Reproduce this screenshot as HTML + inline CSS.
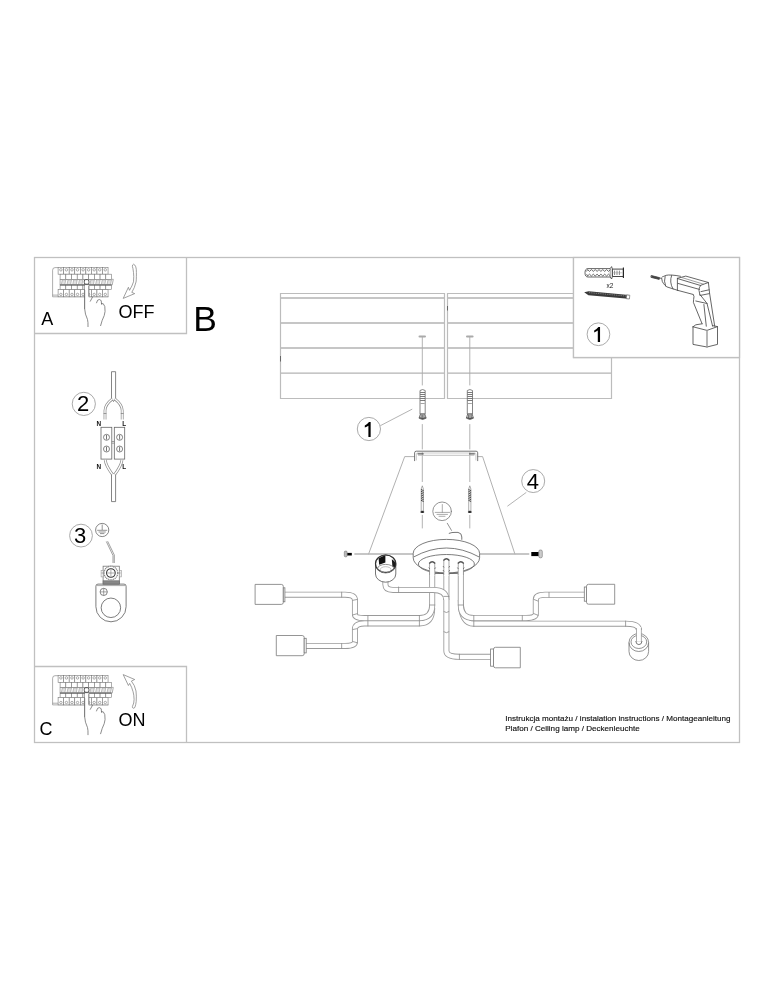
<!DOCTYPE html>
<html><head><meta charset="utf-8">
<style>
html,body{margin:0;padding:0;background:#fff;width:774px;height:1000px;overflow:hidden}
svg{position:absolute;left:0;top:0;display:block;will-change:transform}
text{font-family:"Liberation Sans",sans-serif}
</style></head><body>
<svg width="774" height="1000" viewBox="0 0 774 1000">
<rect x="0" y="0" width="774" height="1000" fill="#fff"/>
<!-- frame -->
<g fill="none" stroke="#c0c0c0" stroke-width="1.3">
<rect x="34.5" y="257.5" width="705" height="485"/>
<path d="M186.5 257.5V333.5H34.5"/>
<path d="M34.5 666.5H186.5V742.5"/>
<path d="M573.5 257.5V357.5H739.5"/>
</g>
<!-- letters -->
<g fill="#000">
<text x="41.3" y="325" font-size="18">A</text>
<text x="118.5" y="318" font-size="18">OFF</text>
<text x="39.5" y="735" font-size="18">C</text>
<text x="118.5" y="726" font-size="18">ON</text>
<text x="193.2" y="331" font-size="35.4">B</text>
</g>
<!-- numbered circles -->
<g fill="none" stroke="#a0a0a0" stroke-width="0.9">
<circle cx="598.6" cy="334.4" r="11.4"/>
<circle cx="368.9" cy="429" r="11.6"/>
<circle cx="533.2" cy="481.05" r="11.5"/>
<circle cx="83.8" cy="403.9" r="11.6"/>
<circle cx="81" cy="535.6" r="11.4"/>
</g>
<g fill="#000" font-size="22" text-anchor="middle">
<path d="M370.65 422.10V436.90H368.40V425.70Q366.80 426.90 364.80 427.50V425.50Q367.30 424.20 369.00 422.10Z" fill="#000"/>
<text x="532.9" y="488.9">4</text>
<text x="83.1" y="411.3">2</text>
<text x="80.2" y="543.4">3</text>
</g>
<!-- bottom text -->
<g fill="#111" stroke="#111" stroke-width="0.15" font-size="8.1">
<text x="505.2" y="720.6">Instrukcja montażu / instalation instructions / Montageanleitung</text>
<text x="505.2" y="731.4">Plafon / Ceiling lamp / Deckenleuchte</text>
</g>
<!-- ceiling panels -->
<g fill="none" stroke="#bcbcbc" stroke-width="1.2">
<path d="M280.5 293.5H444.5V398.5H280.5Z"/>
<path d="M447.5 293.5H611.5V398.5H447.5Z"/>
</g>
<g fill="none" stroke="#b4b4b4" stroke-width="1.45">
<path d="M281 297.9H444M281 323H444M281 348H444M281 373.1H444"/>
<path d="M448 297.9H611M448 323H611M448 348H611M448 373.1H611"/>
<path d="M280.5 356V361.5M447.5 306V310.5" stroke="#666" stroke-width="1"/>
</g>



<g id="brk">
<g fill="#fff" stroke="#777" stroke-width="0.6">
<path d="M58.1 267.6H55Q52.6 267.6 52.6 270.2V296.8H108.4"/>
<path d="M52.6 295.1H58.1"/>
<rect x="58.10" y="267.4" width="5.55" height="6.8"/><circle cx="60.88" cy="269.8" r="1.25"/><rect x="63.65" y="267.4" width="5.55" height="6.8"/><circle cx="66.42" cy="269.8" r="1.25"/><rect x="69.20" y="267.4" width="5.55" height="6.8"/><circle cx="71.98" cy="269.8" r="1.25"/><rect x="74.75" y="267.4" width="5.55" height="6.8"/><circle cx="77.53" cy="269.8" r="1.25"/><rect x="80.30" y="267.4" width="5.55" height="6.8"/><circle cx="83.08" cy="269.8" r="1.25"/><rect x="85.85" y="267.4" width="5.55" height="6.8"/><circle cx="88.62" cy="269.8" r="1.25"/><rect x="91.40" y="267.4" width="5.55" height="6.8"/><circle cx="94.18" cy="269.8" r="1.25"/><rect x="96.95" y="267.4" width="5.55" height="6.8"/><circle cx="99.73" cy="269.8" r="1.25"/><rect x="102.50" y="267.4" width="5.55" height="6.8"/><circle cx="105.28" cy="269.8" r="1.25"/>
<rect x="58.10" y="289.4" width="5.55" height="7.4"/><circle cx="60.88" cy="294.4" r="1.2"/><rect x="63.65" y="289.4" width="5.55" height="7.4"/><circle cx="66.42" cy="294.4" r="1.2"/><rect x="69.20" y="289.4" width="5.55" height="7.4"/><circle cx="71.98" cy="294.4" r="1.2"/><rect x="74.75" y="289.4" width="5.55" height="7.4"/><circle cx="77.53" cy="294.4" r="1.2"/><rect x="80.30" y="289.4" width="5.55" height="7.4"/><circle cx="83.08" cy="294.4" r="1.2"/><rect x="85.85" y="289.4" width="5.55" height="7.4"/><circle cx="88.62" cy="294.4" r="1.2"/><rect x="91.40" y="289.4" width="5.55" height="7.4"/><circle cx="94.18" cy="294.4" r="1.2"/><rect x="96.95" y="289.4" width="5.55" height="7.4"/><circle cx="99.73" cy="294.4" r="1.2"/><rect x="102.50" y="289.4" width="5.55" height="7.4"/><circle cx="105.28" cy="294.4" r="1.2"/>
<path d="M60.1 279.3H113.3L112.2 285H60.1Z"/>
<rect x="60.10" y="274.2" width="5.71" height="5.1"/><rect x="60.10" y="285" width="5.71" height="4.4"/><rect x="65.81" y="274.2" width="5.71" height="5.1"/><rect x="65.81" y="285" width="5.71" height="4.4"/><rect x="71.52" y="274.2" width="5.71" height="5.1"/><rect x="71.52" y="285" width="5.71" height="4.4"/><rect x="77.23" y="274.2" width="5.71" height="5.1"/><rect x="77.23" y="285" width="5.71" height="4.4"/><rect x="82.94" y="274.2" width="5.71" height="5.1"/><rect x="82.94" y="285" width="5.71" height="4.4"/><rect x="88.66" y="274.2" width="5.71" height="5.1"/><rect x="88.66" y="285" width="5.71" height="4.4"/><rect x="94.37" y="274.2" width="5.71" height="5.1"/><rect x="94.37" y="285" width="5.71" height="4.4"/><rect x="100.08" y="274.2" width="5.71" height="5.1"/><rect x="100.08" y="285" width="5.71" height="4.4"/><rect x="105.79" y="274.2" width="5.71" height="5.1"/><rect x="105.79" y="285" width="5.71" height="4.4"/>
</g>
<g fill="#e2e2e2" stroke="#888" stroke-width="0.5">
<path d="M61.30 284.6L62.30 279.8H65.81L64.81 284.6Z"/><path d="M67.01 284.6L68.01 279.8H71.52L70.52 284.6Z"/><path d="M72.72 284.6L73.72 279.8H77.23L76.23 284.6Z"/><path d="M78.43 284.6L79.43 279.8H82.94L81.94 284.6Z"/><path d="M84.14 284.6L85.14 279.8H88.66L87.66 284.6Z"/><path d="M89.86 284.6L90.86 279.8H94.37L93.37 284.6Z"/><path d="M95.57 284.6L96.57 279.8H100.08L99.08 284.6Z"/><path d="M101.28 284.6L102.28 279.8H105.79L104.79 284.6Z"/><path d="M106.99 284.6L107.99 279.8H111.50L110.50 284.6Z"/>
</g>
<path d="M60.1 285H111.5" stroke="#555" stroke-width="0.9"/>
<rect x="84.3" y="279.6" width="4.6" height="4.6" rx="1.5" fill="#fff" stroke="#333" stroke-width="0.8"/>
<!-- hand -->
<path d="M84.7 283.5V309Q84.9 314 87.5 319.5Q88.2 322 88 327" fill="none" stroke="#666" stroke-width="0.75"/>
<path d="M84.9 285H88.7V297" fill="#fff" stroke="#666" stroke-width="0.6"/>
<path d="M84.9 285.2H88.7V309H84.9Z" fill="#fff" stroke="none"/>
<path d="M84.7 290V309M88.8 286V296.5" fill="none" stroke="#666" stroke-width="0.75"/>
<path d="M90.1 301.6L92.8 296.6" fill="none" stroke="#666" stroke-width="0.75"/>
<path d="M96.4 303.2L97.6 300.2Q99.4 298.6 101.2 300.6L101.6 304.6" fill="none" stroke="#666" stroke-width="0.75"/>
<path d="M101 303.6Q103.6 302.4 104.8 306.5Q105.6 312 104.2 315.6Q102 320 100.5 326" fill="none" stroke="#666" stroke-width="0.75"/>
</g>
<use href="#brk" y="408.1"/>

<g fill="#fff" stroke="#777" stroke-width="0.7" stroke-linejoin="round">
<path d="M133.5 264.2Q136.6 265.2 136.4 272.6Q136.4 281 136 282Q134.6 288 131.8 292.4L134.7 293.6L123.2 298.4L128.4 287.3L129.5 290.3Q132.2 286 133.5 281.8Q134 276 133.5 272.6Q133 268 132.4 266.3Q132.4 264.6 133.5 264.2Z"/>
<path d="M123.2 674.6L134.7 679.5L131.4 681.1Q134.8 685 136 691Q136.6 696 136.2 701.5Q135.8 705 135 707Q134.2 708.6 133.5 708.2Q132 707.8 132.4 706.6Q134.2 703 134.1 699.4Q134 695 133.1 691.8Q131.8 687 129.7 683.4L128.4 685.5Z"/>
</g>
<!-- ===== tools box ===== -->
<rect x="573.5" y="257.5" width="166" height="100" fill="#fff" stroke="#c0c0c0" stroke-width="1.3"/>
<circle cx="598.45" cy="334.25" r="11.35" fill="none" stroke="#a0a0a0" stroke-width="0.9"/>
<path d="M600.05 327.00V341.90H597.80V330.60Q596.20 331.80 594.20 332.40V330.40Q596.70 329.10 598.40 327.00Z" fill="#000"/>
<!-- dowel -->
<g stroke="#333" stroke-width="0.75" fill="#fff" stroke-linejoin="round">
<path d="M588 268.6H610.2L611.6 266.6L612.4 269V276.6L611.6 279L610.2 277H588Q585 277 585 272.8Q585 268.6 588 268.6Z"/>
<path d="M612.4 269.1H623.4V276.5H612.4Z" stroke="#333" stroke-width="0.9"/>
<path d="M623.4 267.6V278" stroke="#222" stroke-width="1.1"/>
<path d="M586.6 271.4L587.6 269.6L589.5 271.4L591.4 269.6L593.3 271.4L595.2 269.6L597.1 271.4L599.0 269.6L600.9 271.4L602.8 269.6L604.7 271.4L606.6 269.6L608.5 271.4L610.4 269.6M586.6 274.2L587.6 276L589.5 274.2L591.4 276L593.3 274.2L595.2 276L597.1 274.2L599.0 276L600.9 274.2L602.8 276L604.7 274.2L606.6 276L608.5 274.2L610.4 276" fill="none" stroke="#444" stroke-width="0.8"/>
<path d="M610.2 268.6V277" fill="none" stroke="#555" stroke-width="0.6"/>
<path d="M614.6 270.6V275M617 270.6V275M619.4 270.6V275" fill="none" stroke="#555" stroke-width="0.7"/>
<path d="M612.4 272.8H622.4" fill="none" stroke="#999" stroke-width="0.5"/>
</g>
<text x="606.6" y="288" font-size="6.5" fill="#222">x2</text>
<!-- screw -->
<g>
<path d="M584.2 292.2L588.6 291.2L628.8 295L628.4 298.7L588.4 295.2Z" fill="#3a3a3a"/>
<path d="M589 292.6L627.6 296.2" stroke="#bbb" stroke-width="0.6" stroke-dasharray="0.9 0.9"/>
<path d="M626.6 294.9L629.8 295.2L629.4 299L626.2 298.7Z" fill="#fff" stroke="#555" stroke-width="0.6"/>
</g>
<!-- drill -->
<g fill="none" stroke="#4a4a4a" stroke-width="0.85" stroke-linejoin="round" stroke-linecap="round">
<path d="M651.5 275.6L659.4 277.6L659.2 279.4L651.3 277.4Z" fill="#444" stroke="#444"/>
<path d="M659.4 278L661.8 278.4"/>
<path d="M661.8 277.4Q662.6 276.4 663.8 276.3Q666 275 668.6 275Q672.5 275 676.1 275.5L680.5 276.3"/>
<path d="M661.8 279.2Q662.2 282.2 663.4 283.4Q665 285.6 666.9 286.9L677.9 290.4"/>
<path d="M665.1 276.6Q663.6 281 665.6 286"/>
<path d="M671.7 275.3Q669 282 673 289"/>
<path d="M677.4 278.3V290.4"/>
<path d="M677.4 278.3L685.8 276.1L708.4 282.5L700.7 285.3Z"/>
<path d="M681 277.3L703.6 284.2" stroke="#777" stroke-width="0.7"/>
<path d="M677.9 283.4L699.4 289.4"/>
<path d="M677.9 290.4L693 294.4"/>
<path d="M700.7 285.3Q698.6 288 699 290.4L700 295.4"/>
<path d="M701 291.6L709.1 289.8M700.4 295.4L709.4 293.6"/>
<path d="M708.4 282.5L709.6 293.4L714.7 326.2"/>
<path d="M693.4 294.6Q694.6 296 693.6 299.6L693.4 302.4L702.1 323.8"/>
<path d="M695.8 301L707 303.5M700 294.6L707 303.4L712.6 326.2M703.9 304.5L706.3 326.2"/>
<path d="M693 326.8L695.8 324.8L702.1 323.8M712.6 325.6L717.5 326.6L707 330.4L693 326.8"/>
<path d="M693 326.8V344.4L707 347L717.5 344.4V326.6"/>
<path d="M707 330.4V347" stroke="#999" stroke-width="1.4"/>
</g>
<!-- ===== main lamp ===== -->
<g fill="none" stroke="#5a5a5a" stroke-width="0.9" stroke-linecap="round" stroke-linejoin="round">
<!-- dashed centerlines -->
<path d="M422.3 336.5V385M469.8 336.5V385" stroke="#aaa"/>
<path d="M419.5 336.5H425M467 336.5H472.6" stroke="#aaa" stroke-width="2"/>
<path d="M422.3 424.5V449M469.8 424.5V449M422.3 452.6V481.6M469.8 452.6V481.6M422.3 515.3V528M469.8 515.3V528" stroke="#aaa"/>
<!-- leader 1 -->
<path d="M380.7 425.5L411.9 409.3" stroke="#aaa"/>
<!-- trapezoid (shade outline) -->
<path d="M414.5 456.6H404.7L368.6 554M477.7 456.6H482.6L514.9 554" stroke="#a8a8a8"/>
<path d="M354.9 554H413.2M479.6 554H528.7" stroke="#b4b4b4" stroke-width="1.5"/>
<!-- bracket -->
<path d="M414.6 460.7V452.8Q414.6 451.2 416.2 451.2H476.1Q477.7 451.2 477.7 452.8V460.7" stroke="#666" stroke-width="0.9"/>
<path d="M416.4 460V454.2Q416.4 453 417.6 453H474.7Q475.9 453 475.9 454.2V460" stroke="#aaa" stroke-width="0.6"/>
<path d="M418.4 455.3H474" stroke="#bbb" stroke-width="0.9"/>
<path d="M418 453.9H423.3M469.5 453.9H474.4" stroke="#444" stroke-width="1"/>
<!-- leader 4 -->
<path d="M526 492.6L507.7 506" stroke="#aaa"/>
<!-- ground symbol -->
<circle cx="442.1" cy="511.3" r="9.3" stroke="#777" stroke-width="0.8"/>
<path d="M442.3 504.5V512.4M435.2 512.4H449.6M437 514.4H447.5M439 516.3H445" stroke="#888" stroke-width="0.7"/>
<path d="M447.3 523.3L451.5 530.4" stroke="#777" stroke-width="0.8"/>
<path d="M449.2 533.3Q452 532.2 455 532.4H458Q461.8 533 461.8 537V539.4" stroke="#666" stroke-width="0.9"/>
</g>

<!-- ===== canopy, tubes, sockets ===== -->
<g fill="none" stroke-linecap="butt" stroke-linejoin="round">
<!-- left arms -->
<path id="t2" d="M304 645.95H345Q354.95 645.95 354.95 641.7V629.1Q354.95 623.4 364.5 623.4H419.4Q432.2 623.4 432.2 608" stroke="#9a9a9a" stroke-width="6"/>
<path d="M304 645.95H345Q354.95 645.95 354.95 641.7V629.1Q354.95 623.4 364.5 623.4H419.4Q432.2 623.4 432.2 608" stroke="#fff" stroke-width="4.3"/>
<path d="M283 594.65H345Q354.95 594.65 354.95 600V614.5Q354.95 618.1 364.5 618.1H419.4Q432.2 618.1 432.2 605V563" stroke="#9a9a9a" stroke-width="6"/>
<path d="M283 594.65H345Q354.95 594.65 354.95 600V614.5Q354.95 618.1 364.5 618.1H419.4Q432.2 618.1 432.2 605V563" stroke="#fff" stroke-width="4.3"/>
<!-- middle vertical + lower middle arm -->
<path d="M446.4 560V651Q446.4 656.8 459.4 656.8H492" stroke="#9a9a9a" stroke-width="6"/>
<path d="M446.4 560V651Q446.4 656.8 459.4 656.8H492" stroke="#fff" stroke-width="4.3"/>
<!-- open socket arm -->
<path d="M385.4 581V584.5Q385.4 589.9 393 589.9H433Q446.4 589.9 446.4 600" stroke="#9a9a9a" stroke-width="6"/>
<path d="M385.4 581V584.5Q385.4 589.9 393 589.9H433Q446.4 589.9 446.4 600" stroke="#fff" stroke-width="4.3"/>
<!-- right arms -->
<path d="M460.8 600Q460.8 623.7 473.8 623.7H625.6Q638.9 623.7 638.9 630" stroke="#9a9a9a" stroke-width="6"/>
<path d="M460.8 600Q460.8 623.7 473.8 623.7H625.6Q638.9 623.7 638.9 630" stroke="#fff" stroke-width="4.3"/>
<path d="M460.8 563V605Q460.8 618 473.8 618H526Q535.8 618 535.8 614V599.5Q535.8 594.75 545 594.75H586" stroke="#9a9a9a" stroke-width="6"/>
<path d="M460.8 563V605Q460.8 618 473.8 618H526Q535.8 618 535.8 614V599.5Q535.8 594.75 545 594.75H586" stroke="#fff" stroke-width="4.3"/>
</g>
<g fill="none" stroke="#8a8a8a" stroke-width="0.8">
<!-- tube joint ticks -->
<path d="M443.6 611.4Q446.4 613.6 449.2 611.4M443.6 631.6Q446.4 633.8 449.2 631.6M352.4 600.4L357.5 599.4M352.4 615L357.5 613.6M352.4 629.6L357.5 628.6M352.4 641.4L357.5 642.8M533.3 613.4L538.3 615.4M533.3 599.2L538.3 601.2M341.65 591.8V597.5M367.9 615.5V626.3M419.4 615.2V626.3M341.65 643.2V648.7M429.2 605H435.2M398.6 586.6V592.6M443.4 596.4H449.4M459.4 653.8V659.8M457.8 605H463.8M473.8 615V626.7M522.3 615.2V620.8M549 592V597.5M625.6 620.7V626.7"/>
</g>
<!-- canopy -->
<g fill="#fff" stroke="#666" stroke-width="0.85">
<path d="M413.2 553.4A33.2 14 0 0 1 479.6 553.4V557.8A33.2 15.2 0 0 1 413.2 557.8Z"/>
<path d="M413.6 557Q446.4 539 479.2 557" fill="none"/>
<ellipse cx="446.4" cy="564" rx="28" ry="9.5" fill="none"/>
</g>
<!-- tube nipples into canopy -->
<g fill="none" stroke-linecap="butt">
<path d="M432.2 575V563M446.4 575V560M460.8 575V563" stroke="#9a9a9a" stroke-width="6"/>
<path d="M432.2 576V563M446.4 576V560M460.8 576V563" stroke="#fff" stroke-width="4.3"/>
<path d="M429.2 563.5Q432.2 560 435.2 563.5M443.4 560.5Q446.4 557 449.4 560.5M457.8 563.5Q460.8 560 463.8 563.5" stroke="#555" stroke-width="1.3"/>
<path d="M428.8 567.5l1 1.5M435.6 567.5l-1 1.5M443 566l1 1.5M449.8 566l-1 1.5M443 570l1 1.5M449.8 570l-1 1.5M457.4 567.5l1 1.5M464.2 567.5l-1 1.5" stroke="#666" stroke-width="0.8"/>
<path d="M435 573.3H443.4M449.4 573.3H457.8" stroke="#5a5a5a" stroke-width="0.9"/>
</g>
<!-- sockets -->
<g fill="#fff" stroke="#7a7a7a" stroke-width="0.8">
<path d="M255.1 584.4H281.3Q283.3 584.4 283.3 586.4V602.4Q283.3 604.4 281.3 604.4H255.1Z"/>
<rect x="283.3" y="587.8" width="1.6" height="14"/>
<path d="M276.3 635.5H302.2Q304.2 635.5 304.2 637.5V653.7Q304.2 655.7 302.2 655.7H276.3Z"/>
<rect x="304.2" y="638.3" width="2" height="14.6"/>
<path d="M495.5 647.3H520.3V667.8H495.5Q493.5 667.8 493.5 665.8V649.3Q493.5 647.3 495.5 647.3Z"/>
<rect x="490.6" y="649" width="2.9" height="17.2"/>
<path d="M588.5 584.3H614.7V604.2H588.5Q586.5 604.2 586.5 602.2V586.3Q586.5 584.3 588.5 584.3Z"/>
<rect x="584.3" y="587" width="2.2" height="14.2"/>
</g>
<!-- open socket -->
<g stroke="#555" stroke-width="0.9">
<path d="M375.5 563.8A10.15 8.8 0 0 1 395.8 563.8V574A10.15 8.2 0 0 1 375.5 574Z" fill="#fff" stroke="#666"/>
<ellipse cx="385.65" cy="563.8" rx="10.15" ry="8.8" fill="none" stroke="#333" stroke-width="1.2"/>
<path d="M378.6 558.4Q381.6 556.2 385.4 555.6V562.6L379.2 564.8Z" fill="#111" stroke="none"/>
<path d="M391.8 559.2Q394.8 560.8 395.6 563.4L394.8 567.2L392.4 566.4Z" fill="#1a1a1a" stroke="none"/>
<ellipse cx="385.65" cy="568.5" rx="8.1" ry="4.1" fill="none" stroke="#777" stroke-width="0.8"/>
<ellipse cx="385.65" cy="569.6" rx="5.4" ry="2.9" fill="none" stroke="#999" stroke-width="0.6"/>
<path d="M383.8 572.6Q385.65 570.9 387.5 572.6Z" fill="#222" stroke="none"/>
</g>
<!-- hanging socket -->
<g stroke="#777" stroke-width="0.8" fill="none">
<path d="M629 642.5A9.8 9 0 0 1 648.6 642.5V651.5A9.8 9 0 0 1 629 651.5Z" fill="#fff"/>
<path d="M629 642.5A9.8 9 0 0 0 648.6 642.5"/>
<ellipse cx="638.85" cy="641.9" rx="7.85" ry="6.6"/>
</g>
<g fill="none" stroke-linecap="butt">
<path d="M638.9 628V641.5" stroke="#9a9a9a" stroke-width="5.6"/>
<path d="M638.9 627V641.5" stroke="#fff" stroke-width="4"/>
<path d="M635.8 641Q636 644.6 638.9 644.6Q641.8 644.6 642 641" stroke="#666" stroke-width="0.9"/>
</g>
<!-- side screws -->
<g>
<rect x="347.1" y="552.9" width="4.7" height="2.6" fill="#000"/>
<rect x="344.3" y="551.1" width="2.8" height="5.7" rx="1" fill="#bbb" stroke="#777" stroke-width="0.6"/>
<rect x="531.3" y="552" width="7.5" height="4.1" fill="#000"/>
<rect x="538.8" y="550" width="3.5" height="7.8" rx="1.4" fill="#ccc" stroke="#777" stroke-width="0.6"/>
</g>

<!-- ===== dowels & screws under ceiling ===== -->
<g id="dowel">
<path d="M420 390.5Q422.6 388.6 425.2 390.5V414H420Z" fill="#fff" stroke="#666" stroke-width="0.8"/>
<path d="M420.2 392.5H425M420.2 394.5H425M420.2 396.5H425M420.2 398.5H425M420.2 400.5H425" stroke="#444" stroke-width="0.7"/>
<path d="M420.6 403.5H424.6" stroke="#666" stroke-width="0.6"/>
<path d="M420.4 414L419 418.2Q422.6 420.8 426.2 418.2L424.8 414Z" fill="#ddd" stroke="#444" stroke-width="0.7"/>
<path d="M421.2 414.6V418.6M422.6 414.6V419.2M424 414.6V418.6" stroke="#333" stroke-width="0.6"/>
<path d="M419.4 417.6Q422.6 419.6 425.8 417.6" fill="none" stroke="#333" stroke-width="0.8"/>
</g>
<use href="#dowel" x="47.3"/>
<g id="wscrew">
<path d="M422.3 485.8L421.2 489V511H423.4V489Z" fill="#fff" stroke="#777" stroke-width="0.6"/>
<path d="M421 489.5L423.6 490.7M421 491.3L423.6 492.5M421 493.1L423.6 494.3M421 494.9L423.6 496.1M421 496.7L423.6 497.9M421 498.5L423.6 499.7M421 500.3L423.6 501.5" stroke="#222" stroke-width="0.8"/>
<ellipse cx="422.3" cy="512" rx="2" ry="1.1" fill="#222"/>
</g>
<use href="#wscrew" x="47.5"/>

<!-- ===== item 2: connector ===== -->
<g fill="none" stroke="#666" stroke-width="0.8">
<path d="M111.5 398.6V371.7H115.6V398.6" fill="#fff"/>
<path d="M111.5 398.6L113.5 401.5L115.6 398.6"/>
<path d="M112.6 398.8Q105 404.5 105 410.5V419.6M114.6 398.8Q122.2 404.5 122.2 410.5V419.6" stroke="#8e8e8e" stroke-width="2.8"/>
<path d="M112.6 398.8Q105 404.5 105 410.5V419.9M114.6 398.8Q122.2 404.5 122.2 410.5V419.9" stroke="#fff" stroke-width="1.35"/>
<path d="M103.6 413.5H106.4M120.8 413.5H123.6" stroke="#777" stroke-width="0.7"/>


<rect x="101" y="427.3" width="10.8" height="31.8" fill="#fff"/>
<rect x="114.3" y="427.3" width="10.4" height="31.8" fill="#fff"/>
<circle cx="106.5" cy="437.3" r="3"/>
<circle cx="119.6" cy="437.3" r="3"/>
<circle cx="106.5" cy="449" r="3"/>
<circle cx="119.6" cy="449" r="3"/>
<path d="M106.5 435V439.6M119.6 435V439.6M106.5 446.7V451.3M119.6 446.7V451.3" stroke-width="0.9"/>
<path d="M111.8 441.5H114.3M111.8 443.2H114.3" stroke-width="0.6"/>
<path d="M105.2 460Q106 466 112.6 474.6M122 460Q121.2 466 114.6 474.6" stroke="#8e8e8e" stroke-width="2.8"/>
<path d="M105.2 459.8Q106 466 112.6 474.6M122 459.8Q121.2 466 114.6 474.6" stroke="#fff" stroke-width="1.35"/>

<path d="M111.5 474.5V501.6H115.6V474.5" fill="#fff"/>
</g>
<g fill="#111" font-size="6.4" font-weight="bold">
<text x="96.5" y="426">N</text>
<text x="122.2" y="426">L</text>
<text x="96.5" y="468.5">N</text>
<text x="122.2" y="468.5">L</text>
</g>
<!-- ===== item 3: ground lug ===== -->
<g fill="none" stroke="#666" stroke-width="0.8">
<circle cx="102.2" cy="530" r="6.6"/>
<path d="M102.2 524.5V530M97.2 530.3H107.2M98.6 532H105.8M100 533.6H104.4" stroke-width="0.7"/>
<path d="M106.3 541.5L113 555.5V563M107.6 541.2L114.3 555V563" stroke="#777" stroke-width="0.7"/>
<path d="M95.9 606.7V586.2Q95.9 584.1 98 584.1H124Q126.1 584.1 126.1 586.2V606.7A15.1 15.1 0 0 1 95.9 606.7Z" fill="#fff" stroke="#666" stroke-width="0.85"/>
<path d="M96.6 585.6H125.4" stroke="#aaa" stroke-width="1"/>
<circle cx="110.9" cy="607.8" r="9.75" stroke="#666" stroke-width="0.85"/>
<circle cx="103.7" cy="591.9" r="3.6" stroke="#666"/>
<path d="M100.1 591.9H107.3M103.7 588.3V595.5" stroke-width="0.6"/>
<rect x="103.1" y="566.2" width="16.2" height="17.9" fill="#fff" stroke="#777"/>
<rect x="103.1" y="580.8" width="16.2" height="3.3" fill="#888" stroke="#666" stroke-width="0.6"/>
<rect x="101.1" y="570.4" width="2" height="6.5" fill="#fff" stroke="#999" stroke-width="0.6"/>
<rect x="119.3" y="570.4" width="2" height="6.5" fill="#eee" stroke="#999" stroke-width="0.6"/>
<circle cx="110.9" cy="573" r="6.8" fill="#fff" stroke="#888" stroke-width="1.2" stroke-dasharray="1.2 0.6"/>
<circle cx="110.9" cy="573" r="4.3" stroke="#333" stroke-width="1.1"/>
<path d="M110.9 569.8V576.2M107.7 573H114.1" stroke="#777" stroke-width="0.6"/>
<path d="M101.4 573H103.8M118 573H120.6" stroke="#777" stroke-width="0.6"/>
</g>
</svg>
</body></html>
